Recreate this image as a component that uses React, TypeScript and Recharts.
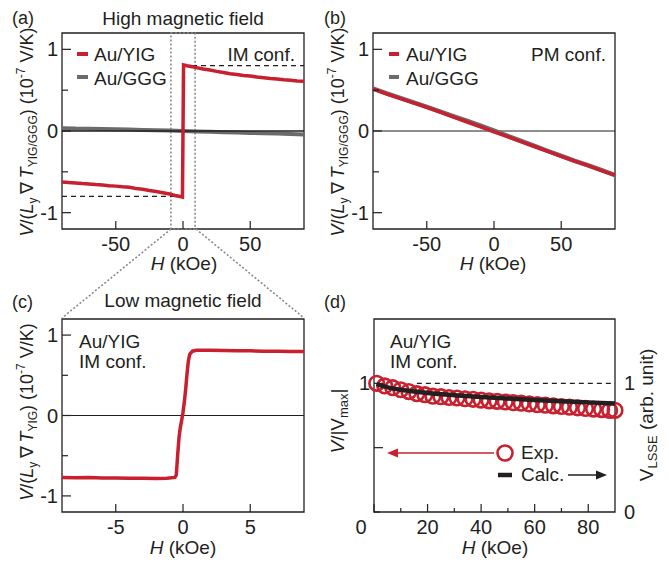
import React from 'react';
import { ComposedChart, Line, XAxis, YAxis, ReferenceLine, ReferenceArea } from 'recharts';

// ---------- data ----------
const A_YIG_H = [-90, -85, -80, -75, -70, -65, -60, -55, -50, -45, -40, -35, -30, -25, -20, -15, -10, -6, -3, -0.4, 0.4, 3, 6, 10, 15, 20, 25, 30, 35, 40, 45, 50, 55, 60, 65, 70, 75, 80, 85, 90];
const A_YIG_V = [-0.625, -0.632, -0.636, -0.644, -0.648, -0.656, -0.66, -0.669, -0.675, -0.684, -0.69, -0.703, -0.713, -0.729, -0.74, -0.756, -0.772, -0.789, -0.8, -0.81, 0.81, 0.8, 0.79, 0.776, 0.759, 0.746, 0.73, 0.717, 0.702, 0.693, 0.68, 0.673, 0.661, 0.653, 0.644, 0.638, 0.627, 0.621, 0.613, 0.608];

const A_GGG_H = [-90, -80, -70, -60, -50, -40, -30, -20, -10, 0, 10, 20, 30, 40, 50, 60, 70, 80, 90];
const A_GGG_V = [0.035, 0.03, 0.029, 0.024, 0.021, 0.017, 0.013, 0.008, 0.005, 0.0, -0.006, -0.01, -0.015, -0.018, -0.023, -0.027, -0.031, -0.037, -0.042];

const B_H = [-90, -80, -70, -60, -50, -40, -30, -20, -10, 0, 10, 20, 30, 40, 50, 60, 70, 80, 90];
const B_YIG_V = [0.515, 0.455, 0.4, 0.345, 0.29, 0.23, 0.17, 0.11, 0.05, -0.01, -0.07, -0.13, -0.19, -0.25, -0.31, -0.37, -0.425, -0.485, -0.54];
const B_GGG_V = [0.52, 0.46, 0.405, 0.35, 0.295, 0.238, 0.18, 0.125, 0.066, 0.006, -0.06, -0.122, -0.182, -0.245, -0.305, -0.365, -0.42, -0.48, -0.542];

const C_H = [-9, -8, -7, -6, -5, -4, -3, -2, -1.2, -0.6, -0.5, -0.4, -0.3, -0.2, -0.1, 0, 0.1, 0.2, 0.3, 0.4, 0.5, 0.7, 1, 2, 3, 4, 5, 6, 7, 8, 9];
const C_V = [-0.77, -0.775, -0.772, -0.778, -0.776, -0.78, -0.779, -0.782, -0.78, -0.77, -0.74, -0.5, -0.28, -0.15, -0.06, 0.04, 0.17, 0.33, 0.52, 0.68, 0.76, 0.8, 0.81, 0.81, 0.808, 0.806, 0.805, 0.8, 0.8, 0.797, 0.795];

const D_EXP_H = [1, 4, 7, 10, 13, 16, 19, 22, 25, 28, 31, 34, 37, 40, 43, 46, 49, 52, 55, 58, 61, 64, 67, 70, 73, 76, 79, 82, 85, 88, 90];
const D_EXP_V = [1.0, 0.98, 0.966, 0.95, 0.936, 0.92, 0.912, 0.9, 0.896, 0.89, 0.886, 0.88, 0.876, 0.87, 0.864, 0.86, 0.855, 0.85, 0.846, 0.84, 0.834, 0.83, 0.825, 0.82, 0.815, 0.81, 0.805, 0.8, 0.796, 0.79, 0.79];

const D_CALC_H = [1, 3, 6, 10, 15, 20, 30, 40, 50, 60, 70, 80, 90];
const D_CALC_V = [0.995, 0.98, 0.965, 0.95, 0.936, 0.925, 0.908, 0.894, 0.882, 0.871, 0.861, 0.852, 0.843];

const X_TICKS_AB = [-50, 0, 50];
const X_TICKS_C = [-5, 0, 5];
const X_TICKS_D = [0, 10, 20, 30, 40, 50, 60, 70, 80];
const Y_TICKS_ABC = [-1, -0.5, 0, 0.5, 1];
const Y_TICKS_D = [0, 0.5, 1];
const Y_TICKS_DR = [0, 1];

const zip = (h: number[], v: number[]) => h.map((x, i) => ({ h: x, v: v[i] }));
const aYig = zip(A_YIG_H, A_YIG_V);
const aGgg = zip(A_GGG_H, A_GGG_V);
const bYig = zip(B_H, B_YIG_V);
const bGgg = zip(B_H, B_GGG_V);
const cYig = zip(C_H, C_V);
const dExp = zip(D_EXP_H, D_EXP_V);
const dCalc = zip(D_CALC_H, D_CALC_V);

// ---------- styles ----------
const FONT = '"Liberation Sans", Arial, Helvetica, sans-serif';
const INK = '#231f20';
const RED = '#c8202f';
const GRAY = '#6b6b6b';
const DOT = '#8a8a8a';
const TICK_FS = 20;

const fmt = (v: number) => (v < 0 ? '-' + String(-v) : String(v));

const makeXTick = (labelled: number[], major: number[], shift: Record<string, number> = {}) => (props: any) => {
  const { x, y, payload } = props;
  const v = payload.value;
  const isMajor = major.includes(v);
  return (
    <g>
      <line x1={x} x2={x} y1={y} y2={y - (isMajor ? 8 : 4)} stroke={INK} strokeWidth={1.2} />
      {labelled.includes(v) && (
        <text x={x + (shift[String(v)] || 0)} y={y + 22} textAnchor="middle" fontSize={TICK_FS} fill={INK} fontFamily={FONT}>
          {fmt(v)}
        </text>
      )}
    </g>
  );
};

const makeYTick = (labelled: number[], major: number[]) => (props: any) => {
  const { x, y, payload } = props;
  const v = payload.value;
  const isMajor = major.includes(v);
  return (
    <g>
      <line x1={x} x2={x + (isMajor ? 9 : 6)} y1={y} y2={y} stroke={INK} strokeWidth={1.2} />
      {labelled.includes(v) && (
        <text x={x - 4} y={y + 7} textAnchor="end" fontSize={TICK_FS} fill={INK} fontFamily={FONT}>
          {fmt(v)}
        </text>
      )}
    </g>
  );
};

const rightTick = (props: any) => {
  const { x, y, payload } = props;
  return (
    <text x={x + 9} y={y + 7} textAnchor="start" fontSize={TICK_FS} fill={INK} fontFamily={FONT}>
      {fmt(payload.value)}
    </text>
  );
};

const emptyTick = () => <g />;

const xTickAB = makeXTick([-50, 0, 50], [-50, 0, 50]);
const xTickC = makeXTick([-5, 0, 5], [-5, 0, 5]);
const xTickD = makeXTick([0, 20, 40, 60, 80], [0, 20, 40, 60, 80], { '0': -13 });
const yTickABC = makeYTick([-1, 0, 1], [-1, 0, 1]);
const yTickD = makeYTick([1], [0.5, 1]);

const axisCommon = { tickSize: 0, tickMargin: 0, axisLine: false, tickLine: false, interval: 0 as const };

const YLabel = ({ x, y, sub }: { x: number; y: number; sub: string }) => (
  <text transform={`translate(${x},${y}) rotate(-90)`} fontSize={18} textAnchor="middle">
    <tspan fontStyle="italic">V</tspan>
    <tspan>/(</tspan>
    <tspan fontStyle="italic">L</tspan>
    <tspan fontSize={12} dy={4}>y</tspan>
    <tspan dy={-4}>{'\u2009\u2207\u2009'}</tspan>
    <tspan fontStyle="italic">T</tspan>
    <tspan fontSize={12} dy={4}>{sub}</tspan>
    <tspan dy={-4}>) (10</tspan>
    <tspan fontSize={12} dy={-8}>-7</tspan>
    <tspan dy={8}> V/K)</tspan>
  </text>
);

const Overlay = () => (
  <svg width={669} height={565} style={{ position: 'absolute', left: 0, top: 0, pointerEvents: 'none' }} fontFamily={FONT} fill={INK}>
    {/* panel letters and titles */}
    <text x={12} y={24} fontSize={18}>(a)</text>
    <text x={183} y={25} fontSize={19} textAnchor="middle">High magnetic field</text>
    <text x={324} y={24} fontSize={18}>(b)</text>
    <text x={12} y={308} fontSize={18}>(c)</text>
    <text x={183} y={307} fontSize={19} textAnchor="middle">Low magnetic field</text>
    <text x={324} y={308} fontSize={18}>(d)</text>

    {/* zoom connectors */}
    <line x1={171} y1={229} x2={62} y2={318} stroke={DOT} strokeWidth={1.6} strokeDasharray="2 2" />
    <line x1={196} y1={229} x2={304} y2={318} stroke={DOT} strokeWidth={1.6} strokeDasharray="2 2" />

    {/* legend a */}
    <line x1={77} x2={88} y1={54} y2={54} stroke={RED} strokeWidth={4} />
    <text x={94} y={61} fontSize={19}>Au/YIG</text>
    <line x1={77} x2={88} y1={77} y2={77} stroke={GRAY} strokeWidth={4} />
    <text x={94} y={85} fontSize={19}>Au/GGG</text>
    <text x={295} y={61} fontSize={19} textAnchor="end">IM conf.</text>

    {/* legend b */}
    <line x1={389} x2={399} y1={54} y2={54} stroke={RED} strokeWidth={4} />
    <text x={406} y={61} fontSize={19}>Au/YIG</text>
    <line x1={389} x2={399} y1={77} y2={77} stroke={GRAY} strokeWidth={4} />
    <text x={406} y={85} fontSize={19}>Au/GGG</text>
    <text x={606} y={61} fontSize={19} textAnchor="end">PM conf.</text>

    {/* legend c */}
    <text x={79} y={348} fontSize={19}>Au/YIG</text>
    <text x={79} y={368} fontSize={19}>IM conf.</text>

    {/* legend d */}
    <text x={390} y={348} fontSize={19}>Au/YIG</text>
    <text x={390} y={368} fontSize={19}>IM conf.</text>
    <line x1={395} x2={494} y1={453} y2={453} stroke={RED} strokeWidth={1.5} />
    <polygon points="387,453 398,448.5 398,457.5" fill={RED} />
    <circle cx={505} cy={453} r={7.5} fill="white" stroke={RED} strokeWidth={2.6} />
    <text x={521} y={459} fontSize={19}>Exp.</text>
    <line x1={498} x2={512} y1={475} y2={475} stroke={INK} strokeWidth={4.5} />
    <text x={521} y={481} fontSize={19}>Calc.</text>
    <line x1={568} x2={600} y1={475} y2={475} stroke={INK} strokeWidth={1.5} />
    <polygon points="607,475 596,470.5 596,479.5" fill={INK} />

    {/* x axis titles */}
    <text x={184} y={270} fontSize={19} textAnchor="middle"><tspan fontStyle="italic">H</tspan> (kOe)</text>
    <text x={493} y={270} fontSize={19} textAnchor="middle"><tspan fontStyle="italic">H</tspan> (kOe)</text>
    <text x={183} y={554} fontSize={19} textAnchor="middle"><tspan fontStyle="italic">H</tspan> (kOe)</text>
    <text x={495} y={554} fontSize={19} textAnchor="middle"><tspan fontStyle="italic">H</tspan> (kOe)</text>

    {/* y axis titles */}
    <YLabel x={33} y={132} sub="YIG/GGG" />
    <YLabel x={344} y={132} sub="YIG/GGG" />
    <YLabel x={33} y={412} sub="YIG" />
    <text transform="translate(344,421) rotate(-90)" fontSize={19} textAnchor="middle">
      <tspan fontStyle="italic">V</tspan>
      <tspan>/|V</tspan>
      <tspan fontSize={13} dy={4}>max</tspan>
      <tspan dy={-4}>|</tspan>
    </text>
    <text transform="translate(653,415) rotate(-90)" fontSize={19} textAnchor="middle">
      <tspan>V</tspan>
      <tspan fontSize={13} dy={4}>LSSE</tspan>
      <tspan dy={-4}> (arb. unit)</tspan>
    </text>
  </svg>
);

export default function App() {
  return (
    <div style={{ position: 'absolute', left: 0, top: 0, width: 669, height: 565, background: 'white', fontFamily: FONT }}>
      {/* (a) */}
      <div style={{ position: 'absolute', left: 0, top: 0 }}>
        <ComposedChart width={330} height={280} margin={{ top: 33, right: 26, bottom: 0, left: 0 }}>
          <XAxis dataKey="h" type="number" domain={[-90, 90]} ticks={X_TICKS_AB} height={51} tick={xTickAB} {...axisCommon} />
          <YAxis type="number" domain={[-1.2, 1.2]} ticks={Y_TICKS_ABC} width={62} tick={yTickABC} {...axisCommon} />
          <ReferenceArea x1={-90} x2={90} y1={-1.2} y2={1.2} fill="none" stroke={INK} strokeWidth={1.3} ifOverflow="visible" />
          <ReferenceArea x1={-9} x2={9} y1={-1.2} y2={1.2} fill="none" stroke={DOT} strokeWidth={1.6} strokeDasharray="2 2" ifOverflow="visible" />
          <Line data={aGgg} dataKey="v" type="linear" stroke={GRAY} strokeWidth={4} dot={false} isAnimationActive={false} />
          <ReferenceLine y={0} stroke={INK} strokeWidth={1.6} />
          <ReferenceLine segment={[{ x: -90, y: -0.8 }, { x: 0, y: -0.8 }]} stroke={INK} strokeWidth={1.2} strokeDasharray="5 4" />
          <ReferenceLine segment={[{ x: 0, y: 0.8 }, { x: 90, y: 0.8 }]} stroke={INK} strokeWidth={1.2} strokeDasharray="5 4" />
          <Line data={aYig} dataKey="v" type="linear" stroke={RED} strokeWidth={3.5} dot={false} isAnimationActive={false} />
        </ComposedChart>
      </div>

      {/* (b) */}
      <div style={{ position: 'absolute', left: 330, top: 0 }}>
        <ComposedChart width={339} height={280} margin={{ top: 33, right: 54, bottom: 0, left: 0 }}>
          <XAxis dataKey="h" type="number" domain={[-90, 90]} ticks={X_TICKS_AB} height={51} tick={xTickAB} {...axisCommon} />
          <YAxis type="number" domain={[-1.2, 1.2]} ticks={Y_TICKS_ABC} width={43} tick={yTickABC} {...axisCommon} />
          <ReferenceArea x1={-90} x2={90} y1={-1.2} y2={1.2} fill="none" stroke={INK} strokeWidth={1.3} ifOverflow="visible" />
          <ReferenceLine y={0} stroke={INK} strokeWidth={1.2} />
          <Line data={bGgg} dataKey="v" type="linear" stroke={GRAY} strokeWidth={4.5} dot={false} isAnimationActive={false} />
          <Line data={bYig} dataKey="v" type="linear" stroke={RED} strokeWidth={3.5} dot={false} isAnimationActive={false} />
        </ComposedChart>
      </div>

      {/* (c) */}
      <div style={{ position: 'absolute', left: 0, top: 280 }}>
        <ComposedChart width={330} height={285} margin={{ top: 39, right: 26, bottom: 0, left: 0 }}>
          <XAxis dataKey="h" type="number" domain={[-9, 9]} ticks={X_TICKS_C} height={53} tick={xTickC} {...axisCommon} />
          <YAxis type="number" domain={[-1.2, 1.2]} ticks={Y_TICKS_ABC} width={62} tick={yTickABC} {...axisCommon} />
          <ReferenceArea x1={-9} x2={9} y1={-1.2} y2={1.2} fill="none" stroke={INK} strokeWidth={1.3} ifOverflow="visible" />
          <ReferenceLine y={0} stroke={INK} strokeWidth={1.2} />
          <Line data={cYig} dataKey="v" type="linear" stroke={RED} strokeWidth={3.5} dot={false} isAnimationActive={false} />
        </ComposedChart>
      </div>

      {/* (d) experiment */}
      <div style={{ position: 'absolute', left: 330, top: 280 }}>
        <ComposedChart width={339} height={285} margin={{ top: 39, right: 0, bottom: 0, left: 0 }}>
          <XAxis dataKey="h" type="number" domain={[0, 90]} ticks={X_TICKS_D} height={53} tick={xTickD} {...axisCommon} />
          <YAxis yAxisId="L" type="number" domain={[0, 1.5]} ticks={Y_TICKS_D} width={44} tick={yTickD} {...axisCommon} />
          <YAxis yAxisId="R" orientation="right" type="number" domain={[0, 1.5]} ticks={Y_TICKS_DR} width={54} tick={emptyTick} {...axisCommon} />
          <ReferenceArea yAxisId="L" x1={0} x2={90} y1={0} y2={1.5} fill="none" stroke={INK} strokeWidth={1.3} ifOverflow="visible" />
          <ReferenceLine yAxisId="L" segment={[{ x: 16, y: 1 }, { x: 90, y: 1 }]} stroke={INK} strokeWidth={1.2} strokeDasharray="5 4" />
          <Line yAxisId="L" data={dExp} dataKey="v" type="linear" stroke="none" strokeWidth={0} dot={{ r: 7.3, fill: 'none', stroke: RED, strokeWidth: 2.6 }} isAnimationActive={false} />
        </ComposedChart>
      </div>

      {/* (d) calculation (right axis), drawn on top of the circles */}
      <div style={{ position: 'absolute', left: 330, top: 280 }}>
        <ComposedChart width={339} height={285} margin={{ top: 39, right: 0, bottom: 0, left: 0 }}>
          <XAxis dataKey="h" type="number" domain={[0, 90]} ticks={X_TICKS_D} height={53} tick={emptyTick} {...axisCommon} />
          <YAxis yAxisId="L" type="number" domain={[0, 1.5]} ticks={Y_TICKS_D} width={44} tick={emptyTick} {...axisCommon} />
          <YAxis yAxisId="R" orientation="right" type="number" domain={[0, 1.5]} ticks={Y_TICKS_DR} width={54} tick={rightTick} {...axisCommon} />
          <Line yAxisId="R" data={dCalc} dataKey="v" type="monotone" stroke={INK} strokeWidth={4.5} dot={false} isAnimationActive={false} />
        </ComposedChart>
      </div>

      <Overlay />
    </div>
  );
}
